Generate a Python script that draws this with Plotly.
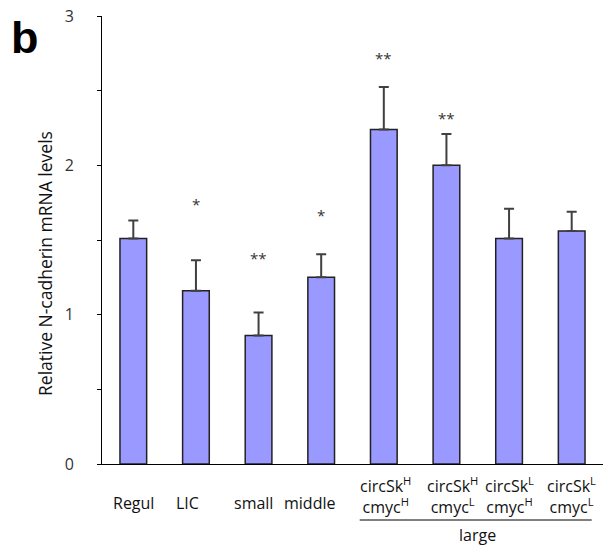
import plotly.graph_objects as go

categories = ["Regul", "LIC", "small", "middle", "c1", "c2", "c3", "c4"]
labels = ["Regul", "LIC", "small", "middle",
          "circSk<sup>H</sup><br>cmyc<sup>H</sup>",
          "circSk<sup>H</sup><br>cmyc<sup>L</sup>",
          "circSk<sup>L</sup><br>cmyc<sup>H</sup>",
          "circSk<sup>L</sup><br>cmyc<sup>L</sup>"]
values = [1.51, 1.16, 0.86, 1.25, 2.24, 2.00, 1.51, 1.56]
errors = [0.12, 0.205, 0.155, 0.155, 0.285, 0.21, 0.20, 0.13]
stars = ["", "*", "**", "*", "**", "**", "", ""]
star_y = [None, 1.74, 1.38, 1.67, 2.72, 2.32, None, None]
label_shift = [0, -8, -5, -12, 2, 6, 0, 0]
group_label = "large"

FONT = "Open Sans"
W, H = 607, 548
L, R, T, B = 102, 4, 16, 84
pw, ph = W - L - R, H - T - B


def px(x):
    return (x - L) / pw


def py(y):
    return (H - B - y) / ph


fig = go.Figure()
fig.add_trace(go.Bar(
    x=categories, y=values,
    marker=dict(color="#9999FF", line=dict(color="#222222", width=1.5)),
    error_y=dict(type="data", symmetric=False, array=errors,
                 arrayminus=[0] * len(errors), color="#404040",
                 thickness=2, width=5),
    showlegend=False,
))

ann = []
for c, s, yy in zip(categories, stars, star_y):
    if s:
        ann.append(dict(x=c, y=yy, xref="x", yref="y", text=s, showarrow=False,
                        font=dict(family=FONT, size=15, color="#333333"),
                        xanchor="center", yanchor="middle"))
for i, (c, lab, sh) in enumerate(zip(categories, labels, label_shift)):
    multi = "<br>" in lab
    ann.append(dict(x=c, y=py(495) if multi else py(503), xref="x", yref="paper",
                    text=lab, showarrow=False, xshift=sh,
                    font=dict(family=FONT, size=16, color="#111111"),
                    xanchor="center", yanchor="middle", align="center"))
ann.append(dict(x=5.5, y=py(535), xref="x", yref="paper", text=group_label,
                showarrow=False, font=dict(family=FONT, size=16, color="#111111"),
                xanchor="center", yanchor="middle"))
ann.append(dict(x=px(45), y=py(264), xref="paper", yref="paper",
                text="Relative N-cadherin mRNA levels", textangle=-90,
                showarrow=False, xanchor="center", yanchor="middle",
                font=dict(family=FONT, size=17.5, color="#111111")))
ann.append(dict(x=px(25), y=py(37), xref="paper", yref="paper", text="<b>b</b>",
                showarrow=False, xanchor="center", yanchor="middle",
                font=dict(family="Liberation Sans", size=45, color="black")))

fig.update_layout(
    width=W, height=H,
    margin=dict(l=L, r=R, t=T, b=B),
    paper_bgcolor="white", plot_bgcolor="white",
    bargap=0.574,
    annotations=ann,
    shapes=[dict(type="line", xref="x", yref="paper", x0=3.615, x1=7.32,
                 y0=py(520), y1=py(520), line=dict(color="black", width=1))],
    xaxis=dict(showticklabels=False, ticks="", showline=True, linecolor="black",
               linewidth=1, range=[-0.5, 7.5], showgrid=False, zeroline=False),
    yaxis=dict(range=[0, 3], tickvals=[0, 0.5, 1, 1.5, 2, 2.5, 3],
               ticktext=["0", "", "1", "", "2", "", "3"],
               ticks="outside", ticklen=4, tickcolor="black", showline=True,
               linecolor="black", linewidth=1, showgrid=False, zeroline=False,
               ticklabelstandoff=20,
               tickfont=dict(family=FONT, size=16, color="#333333")),
)
fig.write_html("out.html")
